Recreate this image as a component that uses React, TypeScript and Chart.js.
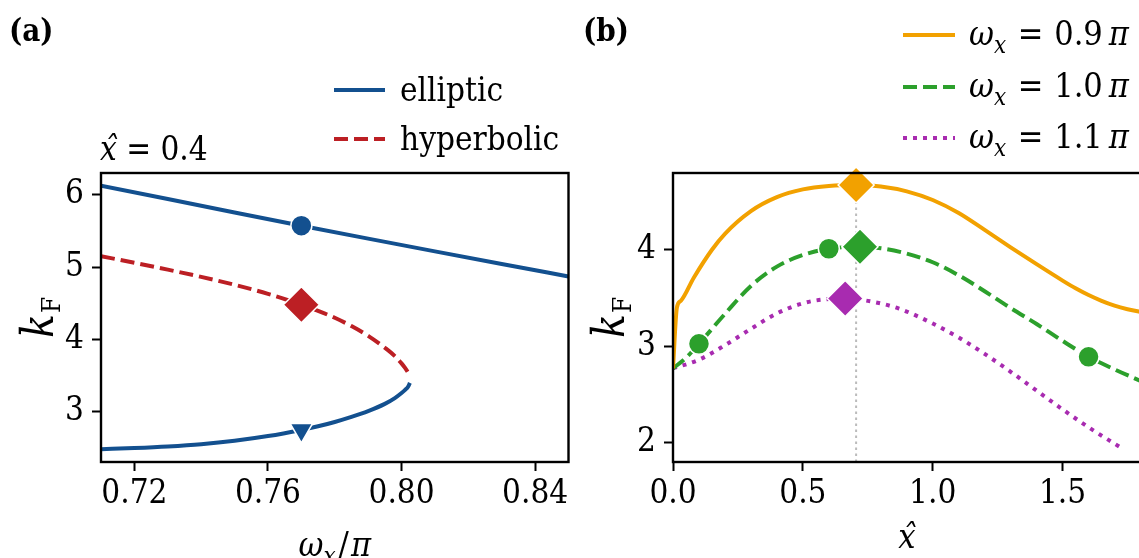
import React, { useEffect, useRef } from "react";
import { Chart, registerables } from "chart.js";

Chart.register(...registerables);

const FAMILY = "'DejaVu Serif Condensed', 'DejaVu Serif', serif";
const F = (size: number, style = "") => `${style} ${size}px ${FAMILY}`.trim();

// ---------- Panel (a): x̂ = 0.4 ----------
const omegaUpper = [0.71, 0.73, 0.75, 0.77, 0.79, 0.81, 0.83, 0.85];
const kUpper = [6.125, 5.94, 5.755, 5.572, 5.393, 5.217, 5.043, 4.87];
const omegaHyp = [0.71, 0.72, 0.73, 0.74, 0.75, 0.76, 0.77, 0.775, 0.78, 0.785, 0.79, 0.795, 0.798, 0.8, 0.801, 0.802, 0.8025];
const kHyp = [5.15, 5.06, 4.965, 4.865, 4.755, 4.63, 4.48, 4.395, 4.3, 4.185, 4.05, 3.885, 3.77, 3.67, 3.61, 3.54, 3.5];
const omegaLower = [0.71, 0.72, 0.73, 0.74, 0.75, 0.76, 0.77, 0.775, 0.78, 0.785, 0.79, 0.795, 0.798, 0.8, 0.801, 0.802, 0.8025];
const kLower = [2.483, 2.5, 2.522, 2.553, 2.6, 2.665, 2.75, 2.8, 2.86, 2.93, 3.01, 3.11, 3.19, 3.26, 3.3, 3.35, 3.4];
const omegaMarkA = [0.77];
const kCircleA = [5.572];
const kDiamondA = [4.48];
const kTriangleA = [2.75];
const xTicksA = [0.72, 0.76, 0.8, 0.84];
const yTicksA = [3, 4, 5, 6];
const xRangeA = [0.71, 0.85];
const yRangeA = [2.307, 6.3];

// ---------- Panel (b) ----------
const xOrange = [0, 0.015, 0.03, 0.08, 0.15, 0.2, 0.3, 0.4, 0.5, 0.6, 0.705, 0.8, 0.9, 1.0, 1.1, 1.2, 1.3, 1.4, 1.5, 1.55, 1.6, 1.65, 1.7, 1.75, 1.8];
const kOrange = [2.77, 3.4, 3.47, 3.71, 4.0, 4.165, 4.4, 4.545, 4.625, 4.66, 4.67, 4.655, 4.605, 4.515, 4.38, 4.205, 4.025, 3.85, 3.68, 3.6, 3.53, 3.47, 3.42, 3.383, 3.355];
const xGreen = [0, 0.05, 0.1, 0.2, 0.3, 0.4, 0.5, 0.6, 0.72, 0.8, 0.9, 1.0, 1.1, 1.2, 1.3, 1.4, 1.5, 1.6, 1.7, 1.8];
const kGreen = [2.77, 2.88, 3.025, 3.335, 3.625, 3.825, 3.945, 4.01, 4.03, 4.015, 3.96, 3.87, 3.735, 3.57, 3.395, 3.23, 3.055, 2.89, 2.76, 2.64];
const xMagenta = [0, 0.1, 0.2, 0.3, 0.4, 0.5, 0.6, 0.663, 0.75, 0.87, 1.0, 1.1, 1.2, 1.3, 1.4, 1.5, 1.6, 1.7, 1.73];
const kMagenta = [2.77, 2.86, 3.01, 3.18, 3.34, 3.445, 3.49, 3.495, 3.47, 3.39, 3.235, 3.09, 2.92, 2.735, 2.54, 2.345, 2.16, 1.99, 1.94];
const xGreenCircles = [0.1, 0.6, 1.6];
const kGreenCircles = [3.025, 4.01, 2.89];
const xDiamondsB = [0.705, 0.72, 0.663];
const kDiamondsB = [4.67, 4.03, 3.495];
const peakX = [0.705, 0.705];
const peakK = [1.8, 4.67];
const xTicksB = [0, 0.5, 1.0, 1.5];
const yTicksB = [2, 3, 4];
const xRangeB = [0, 1.8];
const yRangeB = [1.8, 4.795];

const legendA = ["elliptic", "hyperbolic"];
const legendB = ["0.9", "1.0", "1.1"];

const BLUE = "#13508F";
const RED = "#BC1F24";
const ORANGE = "#F2A100";
const GREEN = "#2CA02C";
const MAGENTA = "#A82BB0";
const GRAY = "#BBBBBB";

const LW = 4;
const DASH = [14, 6];
const DOT = [4, 6];

const pts = (xs: number[], ys: number[]) => xs.map((x, i) => ({ x, y: ys[i] }));

type Part = { t: string; f: string; dy?: number; dx?: number; hat?: boolean };

function drawRich(ctx: CanvasRenderingContext2D, parts: Part[], x: number, y: number, align = "left") {
  const widths = parts.map((p) => {
    ctx.font = p.f;
    return ctx.measureText(p.t).width + (p.dx || 0);
  });
  const total = widths.reduce((a, b) => a + b, 0);
  let cx = align === "center" ? x - total / 2 : align === "right" ? x - total : x;
  ctx.textAlign = "left";
  ctx.textBaseline = "alphabetic";
  parts.forEach((p, i) => {
    ctx.font = p.f;
    const px = cx + (p.dx || 0);
    ctx.fillText(p.t, px, y + (p.dy || 0));
    if (p.hat) {
      const w = ctx.measureText(p.t).width;
      const hw = ctx.measureText("ˆ").width;
      ctx.fillText("ˆ", px + w / 2 - hw / 2 + 2, y + (p.dy || 0));
    }
    cx += widths[i];
  });
  return total;
}

function drawSample(ctx: CanvasRenderingContext2D, x0: number, x1: number, y: number, color: string, dash: number[]) {
  ctx.save();
  ctx.strokeStyle = color;
  ctx.lineWidth = LW;
  ctx.setLineDash(dash);
  ctx.beginPath();
  ctx.moveTo(x0, y);
  ctx.lineTo(x1, y);
  ctx.stroke();
  ctx.restore();
}

function frame(ctx: CanvasRenderingContext2D, a: any) {
  ctx.save();
  ctx.strokeStyle = "#000";
  ctx.lineWidth = 2.4;
  ctx.setLineDash([]);
  ctx.strokeRect(a.left, a.top, a.right - a.left, a.bottom - a.top);
  ctx.restore();
}

const omegaParts = (size: number, value: string): Part[] => [
  { t: "ω", f: F(size, "italic") },
  { t: "x", f: F(Math.round(size * 0.7), "italic"), dy: 8 },
  { t: " = ", f: F(size), dx: 2 },
  { t: value, f: F(size), dx: 1 },
  { t: "π", f: F(size, "italic"), dx: 6 },
];

const kParts: Part[] = [
  { t: "k", f: F(44, "italic") },
  { t: "F", f: F(26), dy: 7, dx: 1 },
];

function scales(xr: number[], yr: number[], xt: number[], yt: number[], yWidth: number, fmt: (v: number) => string) {
  const grid = { drawOnChartArea: false, drawTicks: true, tickLength: 9, tickWidth: 2, tickColor: "#000", color: "#000" };
  return {
    x: {
      type: "linear",
      min: xr[0],
      max: xr[1],
      afterBuildTicks: (s: any) => {
        s.ticks = xt.map((v) => ({ value: v }));
      },
      afterFit: (s: any) => {
        s.height = 96;
      },
      grid,
      border: { display: false },
      ticks: { font: { family: FAMILY, size: 33 }, color: "#000", padding: 4, maxRotation: 0, autoSkip: false, callback: (v: any) => fmt(Number(v)) },
    },
    y: {
      type: "linear",
      min: yr[0],
      max: yr[1],
      afterBuildTicks: (s: any) => {
        s.ticks = yt.map((v) => ({ value: v }));
      },
      afterFit: (s: any) => {
        s.width = yWidth;
      },
      grid,
      border: { display: false },
      ticks: { font: { family: FAMILY, size: 33 }, color: "#000", padding: 8, autoSkip: false, callback: (v: any) => String(v) },
    },
  };
}

const lineDs = (data: any[], color: string, dash: number[] = [], width = LW) => ({
  data,
  showLine: true,
  borderColor: color,
  backgroundColor: color,
  borderWidth: width,
  borderDash: dash,
  pointRadius: 0,
  cubicInterpolationMode: "monotone",
  fill: false,
  order: 1,
});

const markDs = (data: any[], color: string, style: string, radius: number, rotation = 0) => ({
  data,
  showLine: false,
  backgroundColor: color,
  borderColor: "#ffffff",
  borderWidth: 1.5,
  pointStyle: style,
  pointRadius: radius,
  pointRotation: rotation,
  clip: false,
  order: 0,
});

export default function App() {
  const refA = useRef<HTMLCanvasElement>(null);
  const refB = useRef<HTMLCanvasElement>(null);

  useEffect(() => {
    const decoA = {
      id: "decoA",
      afterDraw(chart: any) {
        const ctx = chart.ctx as CanvasRenderingContext2D;
        const a = chart.chartArea;
        frame(ctx, a);
        ctx.save();
        ctx.fillStyle = "#000";
        drawRich(ctx, [{ t: "(a)", f: F(31, "bold") }], 9, 41);
        drawRich(ctx, [{ t: "x", f: F(33, "italic"), hat: true }, { t: " = ", f: F(33) }, { t: "0.4", f: F(33) }], 100, 160);
        // legend
        drawSample(ctx, 334, 385, 90, BLUE, []);
        drawSample(ctx, 334, 385, 139, RED, DASH);
        drawRich(ctx, [{ t: legendA[0], f: F(33) }], 400, 101);
        drawRich(ctx, [{ t: legendA[1], f: F(33) }], 400, 150);
        // axis titles
        drawRich(
          ctx,
          [
            { t: "ω", f: F(34, "italic") },
            { t: "x", f: F(24, "italic"), dy: 8 },
            { t: "/", f: F(34), dx: 3 },
            { t: "π", f: F(34, "italic"), dx: 2 },
          ],
          (a.left + a.right) / 2,
          556,
          "center"
        );
        ctx.translate(53, (a.top + a.bottom) / 2);
        ctx.rotate(-Math.PI / 2);
        drawRich(ctx, kParts, 0, 0, "center");
        ctx.restore();
      },
    };
    const decoB = {
      id: "decoB",
      afterDraw(chart: any) {
        const ctx = chart.ctx as CanvasRenderingContext2D;
        const a = chart.chartArea;
        frame(ctx, a);
        ctx.save();
        ctx.fillStyle = "#000";
        drawRich(ctx, [{ t: "(b)", f: F(31, "bold") }], 3, 41);
        const rows = [35, 87, 138];
        const cols = [ORANGE, GREEN, MAGENTA];
        const dashes = [[], DASH, DOT];
        rows.forEach((y, i) => {
          drawSample(ctx, 323, 375, y, cols[i], dashes[i]);
          drawRich(ctx, omegaParts(34, legendB[i]), 389, y + 10);
        });
        drawRich(ctx, [{ t: "x", f: F(34, "italic"), hat: true }], (a.left + a.right) / 2, 548, "center");
        ctx.translate(44, (a.top + a.bottom) / 2);
        ctx.rotate(-Math.PI / 2);
        drawRich(ctx, kParts, 0, 0, "center");
        ctx.restore();
      },
    };

    const common = {
      responsive: false,
      animation: false,
      events: [],
      plugins: { legend: { display: false }, tooltip: { enabled: false } },
    };

    const chartA = new Chart(refA.current as HTMLCanvasElement, {
      type: "scatter",
      data: {
        datasets: [
          markDs(pts(omegaMarkA, kCircleA), BLUE, "circle", 10.5),
          markDs(pts(omegaMarkA, kDiamondA), RED, "rectRot", 18),
          markDs(pts(omegaMarkA, kTriangleA), BLUE, "triangle", 13, 180),
          lineDs(pts(omegaUpper, kUpper), BLUE),
          lineDs(pts(omegaHyp, kHyp), RED, DASH),
          lineDs(pts(omegaLower, kLower), BLUE),
        ] as any,
      },
      options: {
        ...common,
        layout: { padding: { top: 173, left: 0, right: 0, bottom: 0 } },
        scales: scales(xRangeA, yRangeA, xTicksA, yTicksA, 101, (v) => v.toFixed(2)) as any,
      } as any,
      plugins: [decoA],
    });

    const chartB = new Chart(refB.current as HTMLCanvasElement, {
      type: "scatter",
      data: {
        datasets: [
          markDs(pts(xDiamondsB.slice(0, 1), kDiamondsB.slice(0, 1)), ORANGE, "rectRot", 18),
          markDs(pts(xDiamondsB.slice(1, 2), kDiamondsB.slice(1, 2)), GREEN, "rectRot", 18),
          markDs(pts(xDiamondsB.slice(2, 3), kDiamondsB.slice(2, 3)), MAGENTA, "rectRot", 18),
          markDs(pts(xGreenCircles, kGreenCircles), GREEN, "circle", 10.5),
          lineDs(pts(xOrange, kOrange), ORANGE),
          lineDs(pts(xGreen, kGreen), GREEN, DASH),
          lineDs(pts(xMagenta, kMagenta), MAGENTA, DOT),
          { ...lineDs(pts(peakX, peakK), GRAY, [2.5, 3.5], 2), cubicInterpolationMode: "default", order: 2 },
        ] as any,
      },
      options: {
        ...common,
        layout: { padding: { top: 173, left: 0, right: 0, bottom: 0 } },
        scales: scales(xRangeB, yRangeB, xTicksB, yTicksB, 93, (v) => v.toFixed(1)) as any,
      } as any,
      plugins: [decoB],
    });

    return () => {
      chartA.destroy();
      chartB.destroy();
    };
  }, []);

  return (
    <div style={{ position: "absolute", left: 0, top: 0, width: 1139, height: 558, overflow: "hidden", background: "#fff" }}>
      <canvas ref={refA} width={588} height={558} style={{ position: "absolute", left: 0, top: 0 }} />
      <canvas ref={refB} width={580} height={558} style={{ position: "absolute", left: 580, top: 0 }} />
    </div>
  );
}
